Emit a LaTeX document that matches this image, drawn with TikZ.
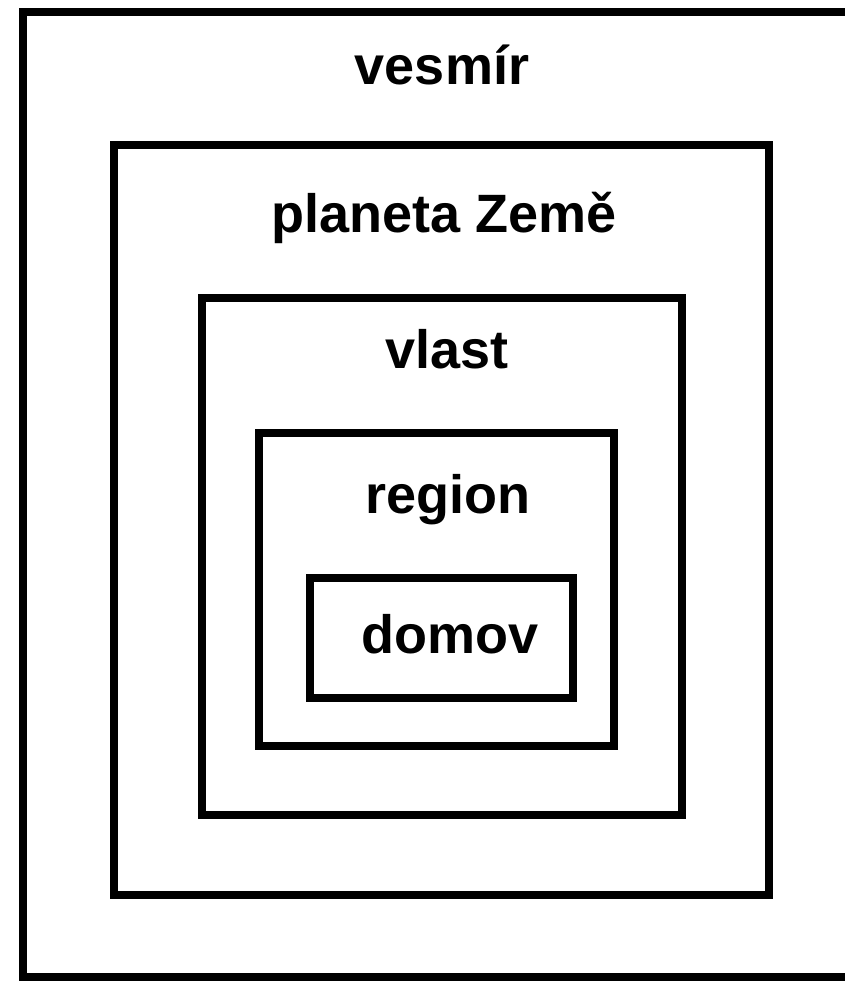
\documentclass[tikz,border=0pt]{standalone}
\usepackage{fontspec}
\setmainfont{Liberation Sans}
\begin{document}
\begin{tikzpicture}[x=1pt,y=-1pt,
  frame/.style={draw=black, line width=8pt, inner sep=0pt, rectangle},
  lbl/.style={font=\fontsize{54}{60}\selectfont\bfseries, anchor=base, inner sep=0pt}]
\useasboundingbox (0,0) rectangle (844,981);
\node[frame, minimum width=827pt, minimum height=965pt] (vesmir) at (436.5,494.5) {};
\node[frame, minimum width=655pt, minimum height=750pt] (zeme) at (441.5,520) {};
\node[frame, minimum width=480pt, minimum height=517pt] (vlast) at (442,556.5) {};
\node[frame, minimum width=355pt, minimum height=313pt] (region) at (436.5,589.5) {};
\node[frame, minimum width=263pt, minimum height=120pt] (domov) at (441.5,638) {};
\node[lbl] (tvesmir) at (442,85) {vesmír};
\node[lbl] (tzeme) at (444,233) {planeta Země};
\node[lbl] (tvlast) at (447,368) {vlast};
\node[lbl] (tregion) at (448,513) {region};
\node[lbl] (tdomov) at (450,653) {domov};
\end{tikzpicture}
\end{document}
